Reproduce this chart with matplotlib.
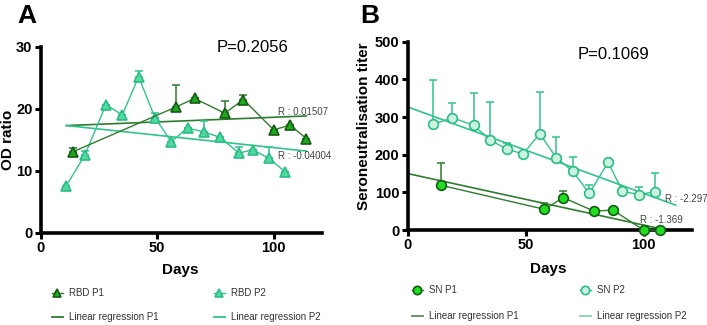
import matplotlib
matplotlib.use("Agg")
import matplotlib.pyplot as plt
import numpy as np
from matplotlib.lines import Line2D

plt.rcParams["font.family"] = ["Liberation Sans", "DejaVu Sans"]

# ---- panel A: RBD OD ratio ----
rbd_p1_days = [14, 58, 66, 79, 87, 100, 107, 114]
rbd_p1_od = [13.1, 20.3, 21.7, 19.3, 21.5, 16.6, 17.4, 15.2]
rbd_p1_err = [0.65, 3.5, 0.0, 2.0, 0.8, 0.0, 0.0, 0.0]

rbd_p2_days = [11, 19, 28, 35, 42, 49, 56, 63, 70, 77, 85, 91, 98, 105]
rbd_p2_od = [7.6, 12.6, 20.7, 19.0, 25.2, 18.6, 14.7, 16.9, 16.3, 15.4, 12.85, 13.4, 12.0, 9.8]
rbd_p2_err = [0.0, 0.6, 0.0, 0.0, 1.0, 0.8, 0.0, 0.0, 1.7, 0.0, 1.05, 0.0, 1.8, 0.0]

# regression (slope, intercept, x range)
reg_a_p1 = (0.01507, 17.14, (11, 114))
reg_a_p2 = (-0.04004, 17.75, (11, 114))
p_value_a = "P=0.2056"

# ---- panel B: seroneutralisation titer ----
sn_p1_days = [14, 58, 66, 79, 87, 100, 107]
sn_p1_titer = [119, 55, 86, 50, 53, 0, 0]
sn_p1_err = [58, 17, 17, 0, 0, 0, 0]

sn_p2_days = [11, 19, 28, 35, 42, 49, 56, 63, 70, 77, 85, 91, 98, 105]
sn_p2_titer = [281, 298, 278, 239, 215, 202, 256, 192, 156, 97, 180, 103, 94, 102]
sn_p2_err = [117, 38, 86, 102, 17, 0, 111, 54, 38, 22, 0, 0, 21, 50]

reg_b_p1 = (-1.369, 150, (0, 112))
reg_b_p2 = (-2.297, 327, (0, 113.6))
p_value_b = "P=0.1069"

DARK_LINE = "#2e7d2e"
DARK_FILL = "#1fa81f"
DARK_EDGE = "#145c14"
LIGHT_LINE = "#2fc48c"
LIGHT_FILL = "#52d9a2"
LIGHT_EDGE = "#2bbd85"
SN1_FILL = "#22dd22"
SN2_FILL = "#ccf3e2"
LEG_TEXT = "#333333"

fig = plt.figure(figsize=(7.07, 3.25), dpi=100)
ax_a = fig.add_axes([0.0576, 0.284, 0.3975, 0.5714])
ax_b = fig.add_axes([0.5764, 0.2923, 0.402, 0.5794])


def style_axes(ax, xmax, ymax, yticks):
    ax.set_xlim(0, xmax)
    ax.set_ylim(0, ymax)
    ax.set_xticks([0, 50, 100])
    ax.set_yticks(yticks)
    for s in ["top", "right"]:
        ax.spines[s].set_visible(False)
    for s in ["left", "bottom"]:
        ax.spines[s].set_linewidth(2.6)
    ax.tick_params(direction="out", length=4, width=2.2, pad=2)
    for lab in ax.get_xticklabels() + ax.get_yticklabels():
        lab.set_fontweight("bold")
        lab.set_fontsize(10.5)


def draw_reg(ax, reg, color):
    slope, icpt, (x0, x1) = reg
    xs = np.array([x0, x1])
    ax.plot(xs, icpt + slope * xs, color=color, lw=1.2, zorder=2)


def draw_series(ax, x, y, err, line, fill, edge, marker, ms):
    ax.errorbar(x, y, yerr=[np.zeros(len(err)), err], fmt="none",
                ecolor=line, elinewidth=1.1, capsize=3, capthick=1.1, zorder=3)
    ax.plot(x, y, color=line, lw=1.0, marker=marker, ms=ms,
            mfc=fill, mec=edge, mew=1.2, zorder=4, clip_on=False)


# panel A
draw_reg(ax_a, reg_a_p1, DARK_LINE)
draw_reg(ax_a, reg_a_p2, LIGHT_LINE)
draw_series(ax_a, rbd_p2_days, rbd_p2_od, rbd_p2_err, LIGHT_LINE, LIGHT_FILL, LIGHT_EDGE, "^", 7)
draw_series(ax_a, rbd_p1_days, rbd_p1_od, rbd_p1_err, DARK_LINE, DARK_FILL, DARK_EDGE, "^", 7)
style_axes(ax_a, 120.6, 30, [0, 10, 20, 30])
ax_a.text(91, 29.9, p_value_a, ha="center", va="center", fontsize=12)
ax_a.text(101.9, 19.5, "R : %.5f" % reg_a_p1[0], fontsize=7, color="#444444", va="center")
ax_a.text(101.9, 12.4, "R : %.5f" % reg_a_p2[0], fontsize=7, color="#444444", va="center")
ax_a.set_ylabel("OD ratio", fontsize=11, fontweight="bold")
ax_a.yaxis.set_label_coords(-0.093, 0.5)
ax_a.set_xlabel("Days", fontsize=11, fontweight="bold")
ax_a.xaxis.set_label_coords(0.496, -0.165)

# panel B
draw_reg(ax_b, reg_b_p1, DARK_LINE)
draw_reg(ax_b, reg_b_p2, LIGHT_LINE)
draw_series(ax_b, sn_p2_days, sn_p2_titer, sn_p2_err, LIGHT_LINE, SN2_FILL, LIGHT_EDGE, "o", 7)
draw_series(ax_b, sn_p1_days, sn_p1_titer, sn_p1_err, DARK_LINE, SN1_FILL, DARK_EDGE, "o", 7)
style_axes(ax_b, 120.4, 500, [0, 100, 200, 300, 400, 500])
ax_b.text(87.1, 465, p_value_b, ha="center", va="center", fontsize=12)
ax_b.text(109.1, 82, "R : %.3f" % reg_b_p2[0], fontsize=7, color="#444444", va="center")
ax_b.text(98.5, 27, "R : %.3f" % reg_b_p1[0], fontsize=7, color="#444444", va="center")
ax_b.set_ylabel("Seroneutralisation titer", fontsize=11, fontweight="bold")
ax_b.yaxis.set_label_coords(-0.13, 0.55)
ax_b.set_xlabel("Days", fontsize=11, fontweight="bold")
ax_b.xaxis.set_label_coords(0.494, -0.17)

# panel letters
fig.text(27 / 707, 1 - 16 / 325, "A", fontsize=19, fontweight="bold", ha="center", va="center")
fig.text(370 / 707, 1 - 16 / 325, "B", fontsize=19, fontweight="bold", ha="center", va="center")


def legend_column(x_px, y_px, data_label, reg_label, line, fill, edge, marker, reg_color, spacing):
    h_data = Line2D([], [], color=line, lw=1.0, marker=marker, ms=6, mfc=fill, mec=edge, mew=1.2)
    h_reg = Line2D([], [], color=reg_color, lw=1.3)
    leg = fig.legend([h_data, h_reg], [data_label, reg_label], loc="upper left",
                     bbox_to_anchor=(x_px / 707, 1 - y_px / 325), frameon=False,
                     fontsize=7, handlelength=1.1, handletextpad=0.6,
                     borderpad=0, borderaxespad=0, labelspacing=spacing)
    for t in leg.get_texts():
        t.set_color(LEG_TEXT)


legend_column(52, 288, "RBD P1", "Linear regression P1", DARK_LINE, DARK_FILL, DARK_EDGE, "^", DARK_LINE, 1.45)
legend_column(214, 288, "RBD P2", "Linear regression P2", LIGHT_LINE, LIGHT_FILL, LIGHT_EDGE, "^", LIGHT_LINE, 1.45)
legend_column(412, 285, "SN P1", "Linear regression P1", DARK_LINE, SN1_FILL, DARK_EDGE, "o", "#5a8a5a", 1.65)
legend_column(580, 285, "SN P2", "Linear regression P2", LIGHT_LINE, SN2_FILL, LIGHT_EDGE, "o", "#7fd8b4", 1.65)

fig.savefig("out.png", dpi=100)
